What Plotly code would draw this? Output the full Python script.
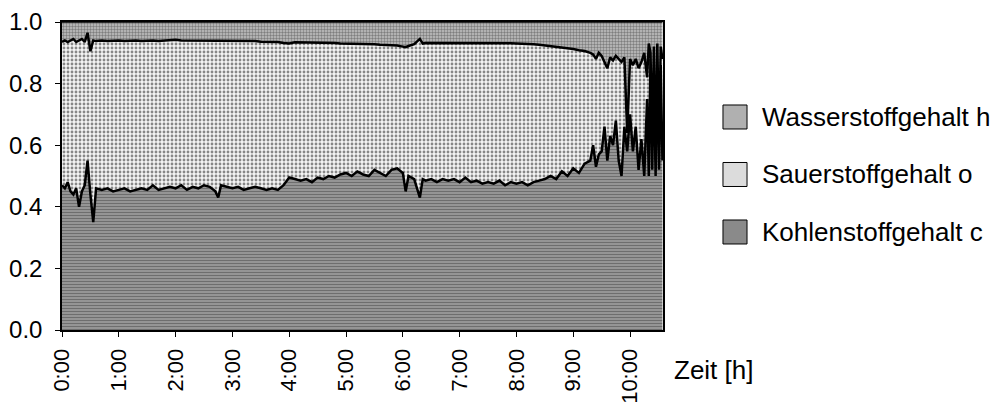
import plotly.graph_objects as go

# time in hours
zeit = [0.00, 0.05, 0.10, 0.15, 0.20, 0.25, 0.30, 0.35, 0.40, 0.45,
        0.50, 0.55, 0.60, 0.70, 0.80, 0.90, 1.00, 1.10, 1.20, 1.30,
        1.40, 1.50, 1.60, 1.70, 1.80, 1.90, 2.00, 2.10, 2.20, 2.30,
        2.40, 2.50, 2.60, 2.70, 2.75, 2.80, 2.90, 3.00, 3.10, 3.20,
        3.30, 3.40, 3.50, 3.60, 3.70, 3.80, 3.90, 4.00, 4.10, 4.20,
        4.30, 4.40, 4.50, 4.60, 4.70, 4.80, 4.90, 5.00, 5.10, 5.20,
        5.30, 5.40, 5.50, 5.60, 5.70, 5.80, 5.90, 6.00, 6.05, 6.10,
        6.20, 6.30, 6.35, 6.40, 6.50, 6.60, 6.70, 6.80, 6.90, 7.00,
        7.10, 7.20, 7.30, 7.40, 7.50, 7.60, 7.70, 7.80, 7.90, 8.00,
        8.10, 8.20, 8.30, 8.40, 8.50, 8.60, 8.70, 8.80, 8.90, 9.00,
        9.10, 9.20, 9.30, 9.35, 9.40, 9.45, 9.50, 9.55, 9.60, 9.65,
        9.70, 9.75, 9.80, 9.85, 9.90, 9.95, 10.00, 10.05, 10.10, 10.15,
        10.20, 10.25, 10.30, 10.33, 10.36, 10.39, 10.42, 10.45, 10.48, 10.51,
        10.54, 10.57]

kohlenstoff_c = [0.470, 0.460, 0.480, 0.450, 0.440, 0.460, 0.400, 0.450, 0.470, 0.550,
                 0.440, 0.350, 0.460, 0.455, 0.460, 0.450, 0.455, 0.460, 0.450, 0.455,
                 0.460, 0.455, 0.470, 0.455, 0.460, 0.465, 0.460, 0.470, 0.455, 0.465,
                 0.460, 0.470, 0.465, 0.450, 0.430, 0.470, 0.465, 0.460, 0.465, 0.455,
                 0.460, 0.465, 0.460, 0.455, 0.460, 0.455, 0.470, 0.495, 0.490, 0.485,
                 0.490, 0.480, 0.495, 0.490, 0.500, 0.495, 0.505, 0.510, 0.500, 0.515,
                 0.505, 0.500, 0.520, 0.510, 0.500, 0.520, 0.525, 0.510, 0.450, 0.500,
                 0.490, 0.430, 0.490, 0.485, 0.490, 0.480, 0.490, 0.485, 0.490, 0.480,
                 0.495, 0.480, 0.485, 0.475, 0.480, 0.475, 0.485, 0.470, 0.480, 0.475,
                 0.480, 0.470, 0.480, 0.485, 0.490, 0.500, 0.490, 0.515, 0.500, 0.525,
                 0.510, 0.540, 0.550, 0.600, 0.530, 0.570, 0.580, 0.660, 0.550, 0.630,
                 0.600, 0.680, 0.550, 0.500, 0.660, 0.580, 0.700, 0.580, 0.660, 0.520,
                 0.620, 0.500, 0.750, 0.500, 0.880, 0.520, 0.850, 0.500, 0.880, 0.520,
                 0.860, 0.550]

sauerstoff_o = [0.465, 0.480, 0.455, 0.490, 0.505, 0.475, 0.540, 0.495, 0.465, 0.415,
                0.465, 0.590, 0.478, 0.485, 0.478, 0.490, 0.485, 0.478, 0.490, 0.485,
                0.478, 0.485, 0.470, 0.483, 0.480, 0.475, 0.482, 0.470, 0.485, 0.473,
                0.480, 0.470, 0.473, 0.490, 0.510, 0.468, 0.475, 0.480, 0.473, 0.485,
                0.478, 0.473, 0.476, 0.481, 0.475, 0.480, 0.462, 0.435, 0.444, 0.449,
                0.444, 0.453, 0.438, 0.442, 0.432, 0.437, 0.425, 0.420, 0.430, 0.415,
                0.423, 0.428, 0.408, 0.416, 0.426, 0.405, 0.399, 0.410, 0.468, 0.422,
                0.438, 0.515, 0.440, 0.447, 0.442, 0.453, 0.443, 0.447, 0.443, 0.452,
                0.437, 0.453, 0.447, 0.457, 0.453, 0.457, 0.447, 0.461, 0.451, 0.455,
                0.450, 0.460, 0.448, 0.441, 0.434, 0.422, 0.430, 0.401, 0.414, 0.387,
                0.398, 0.366, 0.350, 0.295, 0.350, 0.330, 0.310, 0.210, 0.300, 0.255,
                0.275, 0.210, 0.330, 0.370, 0.225, 0.060, 0.180, 0.280, 0.220, 0.330,
                0.250, 0.400, 0.070, 0.430, 0.020, 0.100, 0.070, 0.050, 0.050, 0.080,
                0.060, 0.330]

wasserstoff_h = [0.065, 0.060, 0.065, 0.060, 0.055, 0.065, 0.060, 0.055, 0.065, 0.035,
                 0.095, 0.060, 0.062, 0.060, 0.062, 0.060, 0.060, 0.062, 0.060, 0.060,
                 0.062, 0.060, 0.060, 0.062, 0.060, 0.060, 0.058, 0.060, 0.060, 0.062,
                 0.060, 0.060, 0.062, 0.060, 0.060, 0.062, 0.060, 0.060, 0.062, 0.060,
                 0.062, 0.062, 0.064, 0.064, 0.065, 0.065, 0.068, 0.070, 0.066, 0.066,
                 0.066, 0.067, 0.067, 0.068, 0.068, 0.068, 0.070, 0.070, 0.070, 0.070,
                 0.072, 0.072, 0.072, 0.074, 0.074, 0.075, 0.076, 0.080, 0.082, 0.078,
                 0.072, 0.055, 0.070, 0.068, 0.068, 0.067, 0.067, 0.068, 0.067, 0.068,
                 0.068, 0.067, 0.068, 0.068, 0.067, 0.068, 0.068, 0.069, 0.069, 0.070,
                 0.070, 0.070, 0.072, 0.074, 0.076, 0.078, 0.080, 0.084, 0.086, 0.088,
                 0.092, 0.094, 0.100, 0.105, 0.120, 0.100, 0.110, 0.130, 0.150, 0.115,
                 0.125, 0.110, 0.120, 0.130, 0.115, 0.360, 0.120, 0.140, 0.120, 0.150,
                 0.130, 0.100, 0.180, 0.070, 0.100, 0.380, 0.080, 0.450, 0.070, 0.400,
                 0.080, 0.120]

x_tickvals = [0, 1, 2, 3, 4, 5, 6, 7, 8, 9, 10]
x_ticktext = ["0:00", "1:00", "2:00", "3:00", "4:00", "5:00",
              "6:00", "7:00", "8:00", "9:00", "10:00"]
y_tickvals = [0.0, 0.2, 0.4, 0.6, 0.8, 1.0]
y_ticktext = ["0.0", "0.2", "0.4", "0.6", "0.8", "1.0"]

series_names = ["Kohlenstoffgehalt c", "Sauerstoffgehalt o", "Wasserstoffgehalt h"]

FONT = "Liberation Sans, Arial, sans-serif"

fig = go.Figure()

fig.add_trace(go.Scatter(
    x=zeit, y=kohlenstoff_c, name=series_names[0], stackgroup="one",
    mode="lines", line=dict(color="black", width=2.5),
    fillcolor="#8a8a8a",
    fillpattern=dict(shape="-", bgcolor="#999999", fgcolor="#444444", size=3, solidity=0.4),
    showlegend=False,
))
fig.add_trace(go.Scatter(
    x=zeit, y=sauerstoff_o, name=series_names[1], stackgroup="one",
    mode="lines", line=dict(color="black", width=2.5),
    fillcolor="#d0d0d0",
    fillpattern=dict(shape=".", bgcolor="#f4f4f4", fgcolor="#1a1a1a", size=4, solidity=0.4),
    showlegend=False,
))
fig.add_trace(go.Scatter(
    x=zeit, y=wasserstoff_h, name=series_names[2], stackgroup="one",
    mode="lines", line=dict(color="black", width=1.5),
    fillcolor="#b0b0b0",
    fillpattern=dict(shape=".", bgcolor="#c2c2c2", fgcolor="#3a3a3a", size=3, solidity=0.5),
    showlegend=False,
))

# custom legend (square swatches + text), top to bottom: h, o, c
legend_rows = [
    (series_names[2], "#b0b0b0", 0.6916),
    (series_names[1], "#dcdcdc", 0.5049),
    (series_names[0], "#8a8a8a", 0.3182),
]
shapes = []
annotations = []
box_h = 24 / 308
for name, col, yc in legend_rows:
    shapes.append(dict(type="rect", xref="paper", yref="paper",
                       x0=1.0998, x1=1.1398, y0=yc - box_h / 2, y1=yc + box_h / 2,
                       fillcolor=col, line=dict(color="black", width=1)))
    annotations.append(dict(text=name, xref="paper", yref="paper", x=1.1614, y=yc,
                            xanchor="left", yanchor="middle", showarrow=False,
                            font=dict(family=FONT, size=26, color="black")))

annotations.append(dict(text="Zeit [h]", xref="paper", yref="paper", x=1.015, y=-0.13,
                        xanchor="left", yanchor="middle", showarrow=False,
                        font=dict(family=FONT, size=26, color="black")))

fig.update_layout(
    width=995, height=410,
    margin=dict(l=62, r=332, t=22, b=80, autoexpand=False),
    paper_bgcolor="white", plot_bgcolor="white",
    font=dict(family=FONT, size=24, color="black"),
    shapes=shapes, annotations=annotations,
    showlegend=False,
    xaxis=dict(range=[0, 10.58], tickvals=x_tickvals, ticktext=x_ticktext,
               tickangle=-90, ticks="outside", ticklen=5, tickcolor="black",
               showline=True, linecolor="black", linewidth=2, mirror=True,
               showgrid=False, zeroline=False, ticklabelstandoff=3, automargin=False,
               tickfont=dict(family=FONT, size=22, color="black")),
    yaxis=dict(range=[0, 1], tickvals=y_tickvals, ticktext=y_ticktext,
               ticks="outside", ticklen=5, tickcolor="black",
               showline=True, linecolor="black", linewidth=1.5, mirror=True,
               showgrid=False, zeroline=False, ticklabelstandoff=8, automargin=False,
               tickfont=dict(family=FONT, size=24, color="black")),
)

fig.write_html("out.html", config={"displayModeBar": False},
               post_script="document.body.style.margin='0';")
